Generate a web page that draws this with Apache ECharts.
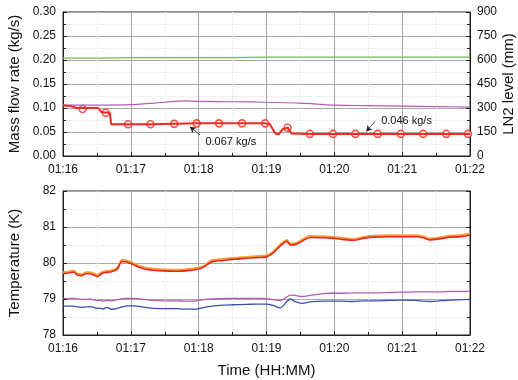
<!DOCTYPE html>
<html><head><meta charset="utf-8">
<script src="https://cdn.jsdelivr.net/npm/echarts@6/dist/echarts.min.js"></script>
<style>html,body{margin:0;padding:0;background:#fff}#c{width:518px;height:380px}</style>
</head><body><div id="c"></div>
<script>
// x values are minutes after 01:16
const timeTicks = ['01:16','01:17','01:18','01:19','01:20','01:21','01:22'];

// Mass flow rate (red, kg/s) line shape
const flowT = [0, 0.12, 0.2, 0.52, 0.57, 0.69, 0.71, 0.96, 1.29, 1.64, 1.97, 2.30, 2.64, 2.98, 3.05, 3.13, 3.18, 3.24, 3.31, 3.37, 3.64, 3.98, 4.31, 4.64, 4.98, 5.31, 5.65, 6.0];
const flowV = [0.105, 0.104, 0.100, 0.100, 0.091, 0.090, 0.066, 0.066, 0.066, 0.067, 0.068, 0.068, 0.068, 0.068, 0.066, 0.047, 0.045, 0.056, 0.059, 0.047, 0.046, 0.046, 0.046, 0.046, 0.046, 0.046, 0.046, 0.046];
// markers on the red line
const markT = [0.29, 0.63, 0.96, 1.29, 1.64, 1.97, 2.30, 2.64, 2.98, 3.31, 3.64, 3.98, 4.31, 4.64, 4.98, 5.31, 5.65, 5.97];
const markV = [0.098, 0.090, 0.066, 0.066, 0.067, 0.068, 0.068, 0.068, 0.068, 0.059, 0.046, 0.046, 0.046, 0.046, 0.046, 0.046, 0.046, 0.046];

// Green flow (kg/s)
const greenT = [0, 0.5, 1, 1.5, 2, 2.5, 3, 3.5, 4, 4.5, 5, 5.5, 6];
const greenV = [0.204, 0.204, 0.205, 0.205, 0.205, 0.205, 0.206, 0.206, 0.206, 0.206, 0.206, 0.206, 0.206];

// LN2 level (mm), purple
const lvlT = [0, 0.5, 1.0, 1.5, 1.8, 2.0, 2.5, 3.0, 3.5, 4.0, 4.5, 5.0, 5.5, 6.0];
const lvlV = [318, 318, 321, 336, 345, 342, 339, 336, 330, 318, 315, 312, 309, 306];

// Temperatures (K)
const tempT = [0, 0.08, 0.15, 0.22, 0.28, 0.34, 0.4, 0.46, 0.51, 0.55, 0.59, 0.65, 0.72, 0.8, 0.87, 0.94, 1.04, 1.14, 1.24, 1.33, 1.5, 1.68, 1.8, 1.97, 2.07, 2.19, 2.36, 2.5, 2.71, 2.85, 3.0, 3.10, 3.20, 3.30, 3.35, 3.42, 3.52, 3.64, 3.84, 3.94, 4.1, 4.28, 4.45, 4.58, 4.8, 4.97, 5.21, 5.31, 5.41, 5.55, 5.71, 5.85, 6.0];
const tRed = [79.70, 79.72, 79.75, 79.66, 79.65, 79.70, 79.70, 79.66, 79.62, 79.68, 79.72, 79.74, 79.76, 79.83, 80.04, 80.03, 79.95, 79.87, 79.82, 79.80, 79.78, 79.77, 79.78, 79.82, 79.88, 80.03, 80.07, 80.10, 80.13, 80.15, 80.17, 80.28, 80.47, 80.60, 80.50, 80.51, 80.60, 80.71, 80.70, 80.69, 80.66, 80.63, 80.69, 80.72, 80.73, 80.73, 80.73, 80.70, 80.64, 80.67, 80.72, 80.73, 80.78];
const tOrange = [79.74, 79.76, 79.79, 79.70, 79.69, 79.74, 79.74, 79.70, 79.66, 79.72, 79.76, 79.78, 79.80, 79.87, 80.08, 80.07, 79.99, 79.91, 79.86, 79.84, 79.82, 79.81, 79.82, 79.86, 79.92, 80.07, 80.11, 80.14, 80.17, 80.19, 80.21, 80.32, 80.51, 80.64, 80.54, 80.55, 80.64, 80.75, 80.74, 80.73, 80.70, 80.67, 80.73, 80.76, 80.77, 80.77, 80.77, 80.74, 80.68, 80.71, 80.76, 80.77, 80.82];
const tPurple = [79.02, 79.01, 79.02, 79.00, 78.99, 78.99, 79.00, 78.97, 78.96, 78.97, 78.94, 78.96, 78.95, 78.98, 79.01, 79.02, 79.02, 79.00, 78.98, 78.96, 78.95, 78.95, 78.94, 78.95, 78.98, 79.00, 79.01, 79.02, 79.02, 79.02, 79.01, 78.98, 78.96, 79.06, 79.11, 79.10, 79.07, 79.10, 79.15, 79.16, 79.16, 79.17, 79.17, 79.17, 79.18, 79.19, 79.20, 79.20, 79.20, 79.20, 79.21, 79.21, 79.22];
const tBlue = [78.81, 78.80, 78.80, 78.78, 78.77, 78.78, 78.79, 78.76, 78.74, 78.74, 78.72, 78.77, 78.71, 78.74, 78.78, 78.81, 78.81, 78.79, 78.76, 78.74, 78.73, 78.73, 78.72, 78.72, 78.76, 78.80, 78.83, 78.84, 78.85, 78.86, 78.86, 78.82, 78.75, 78.93, 79.00, 78.93, 78.88, 78.92, 78.94, 78.94, 78.94, 78.93, 78.95, 78.95, 78.96, 78.97, 78.96, 78.94, 78.93, 78.95, 78.97, 78.98, 78.99];

// Annotations
const ann1 = {text: '0.067 kg/s', tail: [2.02, 0.044], tip: [1.87, 0.061], label: [2.10, 0.030]};
const ann2 = {text: '0.046 kg/s', tail: [4.60, 0.072], tip: [4.47, 0.051], label: [4.69, 0.073]};

const zip = (a, b) => a.map((x, i) => [x, b[i]]);
const FONT = 'Liberation Sans, Arial, sans-serif';

const xAxisBase = (gi) => ({
  type: 'value', gridIndex: gi, min: 0, max: 6, interval: 1,
  axisLine: {show: true, lineStyle: {color: '#222', width: 1}},
  axisTick: {show: true, inside: true, length: 4, lineStyle: {color: '#222'}},
  minorTick: {show: true, splitNumber: 2, length: 3, lineStyle: {color: '#222'}},
  axisLabel: {color: '#111', fontSize: 12, fontFamily: FONT, margin: 8,
    formatter: v => timeTicks[Math.round(v)] || ''},
  splitLine: {show: true, lineStyle: {color: '#a8a8a8', width: 1}},
  minorSplitLine: {show: true, lineStyle: {color: '#e4e4e4', type: 'dotted'}}
});

const yAxisBase = (gi, min, max, interval, pos, showLabel, fmt) => ({
  type: 'value', gridIndex: gi, min, max, interval, position: pos,
  axisLine: {show: true, lineStyle: {color: '#222', width: 1}},
  axisTick: {show: true, inside: true, length: 4, lineStyle: {color: '#222'}},
  minorTick: {show: true, splitNumber: 2, length: 3, lineStyle: {color: '#222'}},
  axisLabel: {show: showLabel, color: '#111', fontSize: 12, fontFamily: FONT, margin: 7, formatter: fmt},
  splitLine: {show: false},
  minorSplitLine: {show: false}
});

const NAME_STYLE = {fontSize: 15, fontFamily: FONT, color: '#111'};

const chart = echarts.init(document.getElementById('c'), null, {renderer: 'canvas'});

const y0 = yAxisBase(0, 0, 0.30, 0.05, 'left', true, v => v.toFixed(2));
y0.splitLine = {show: true, lineStyle: {color: '#a8a8a8'}};
y0.minorSplitLine = {show: true, lineStyle: {color: '#e4e4e4', type: 'dotted'}};
Object.assign(y0, {name: 'Mass flow rate (kg/s)', nameLocation: 'middle', nameGap: 41, nameMoveOverlap: false, nameTextStyle: NAME_STYLE});

const y1 = yAxisBase(0, 0, 900, 150, 'right', true, v => String(v));
Object.assign(y1, {name: 'LN2 level (mm)', nameLocation: 'middle', nameGap: 31, nameRotate: 90, nameMoveOverlap: false,
  nameTextStyle: Object.assign({}, NAME_STYLE, {verticalAlign: 'top'})});

const y2 = yAxisBase(1, 78, 82, 1, 'left', true, v => String(v));
y2.splitLine = {show: true, lineStyle: {color: '#a8a8a8'}};
y2.minorSplitLine = {show: true, lineStyle: {color: '#e4e4e4', type: 'dotted'}};
Object.assign(y2, {name: 'Temperature (K)', nameLocation: 'middle', nameGap: 41, nameMoveOverlap: false, nameTextStyle: NAME_STYLE});

const y3 = yAxisBase(1, 78, 82, 1, 'right', false, v => String(v));

const x0 = xAxisBase(0);
const x1 = xAxisBase(1);
Object.assign(x1, {name: 'Time (HH:MM)', nameLocation: 'middle', nameGap: 28, nameMoveOverlap: false, nameTextStyle: NAME_STYLE});

const arrowLine = (a) => [{coord: a.tail}, {coord: a.tip}];

chart.setOption({
  animation: false,
  backgroundColor: '#fff',
  grid: [
    {left: 63, right: 48, top: 12, height: 144, show: true, borderColor: '#222', borderWidth: 1, backgroundColor: 'transparent', containLabel: false, outerBoundsMode: 'none'},
    {left: 63, right: 48, top: 191, height: 144, show: true, borderColor: '#222', borderWidth: 1, backgroundColor: 'transparent', containLabel: false, outerBoundsMode: 'none'}
  ],
  xAxis: [x0, x1],
  yAxis: [y0, y1, y2, y3],
  series: [
    {type: 'line', xAxisIndex: 0, yAxisIndex: 0, data: zip(greenT, greenV), showSymbol: false,
      lineStyle: {color: '#6cc04a', width: 1.2}},
    {type: 'line', xAxisIndex: 0, yAxisIndex: 1, data: zip(lvlT, lvlV), showSymbol: false, smooth: 0.3,
      lineStyle: {color: '#b65ab8', width: 1.2}},
    {type: 'line', xAxisIndex: 0, yAxisIndex: 0, data: zip(flowT, flowV), showSymbol: false,
      lineStyle: {color: '#f02a20', width: 2},
      markLine: {silent: true, symbol: ['none', 'arrow'], symbolSize: [5, 6],
        lineStyle: {color: '#222', width: 0.8, type: 'solid'}, label: {show: false},
        data: [arrowLine(ann1), arrowLine(ann2)]},
      markPoint: {silent: true, symbol: 'circle', symbolSize: 0,
        label: {show: true, position: 'right', distance: 0, color: '#111', fontSize: 11, fontFamily: FONT,
          formatter: p => p.name},
        data: [{name: ann1.text, coord: ann1.label}, {name: ann2.text, coord: ann2.label}]}},
    {type: 'scatter', xAxisIndex: 0, yAxisIndex: 0, data: zip(markT, markV), symbol: 'circle', symbolSize: 7,
      itemStyle: {color: '#fff', borderColor: '#f02a20', borderWidth: 1.6}},
    {type: 'line', xAxisIndex: 1, yAxisIndex: 2, data: zip(tempT, tPurple), showSymbol: false, smooth: 0.3,
      lineStyle: {color: '#b65ab8', width: 1.3}},
    {type: 'line', xAxisIndex: 1, yAxisIndex: 2, data: zip(tempT, tBlue), showSymbol: false, smooth: 0.3,
      lineStyle: {color: '#3b4fb0', width: 1.3}},
    {type: 'line', xAxisIndex: 1, yAxisIndex: 2, data: zip(tempT, tOrange), showSymbol: false, smooth: 0.3,
      lineStyle: {color: '#f7a03a', width: 2}},
    {type: 'line', xAxisIndex: 1, yAxisIndex: 2, data: zip(tempT, tRed), showSymbol: false, smooth: 0.3,
      lineStyle: {color: '#e8261c', width: 1.6}}
  ]
});
</script>
</body></html>
